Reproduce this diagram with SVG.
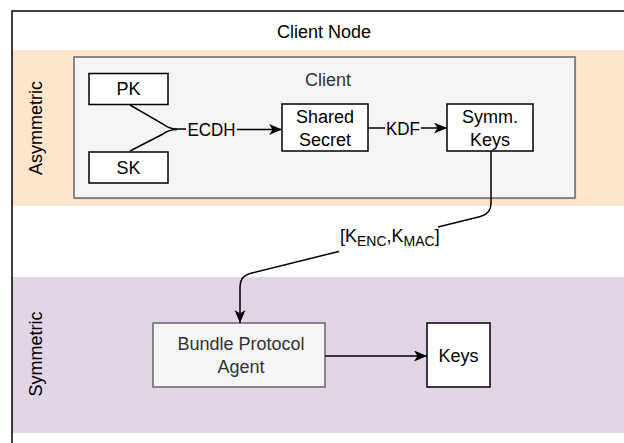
<svg xmlns="http://www.w3.org/2000/svg" width="624" height="443" viewBox="0 0 624 443">
<style>
text{font-family:"Liberation Sans",Arial,sans-serif;font-size:18px;fill:#000}
.c{text-anchor:middle}
.g{fill:#333}
.box{fill:#fff;stroke:#000;stroke-width:1.5}
.gbox{fill:#f5f5f5;stroke:#666;stroke-width:1.5}
.edge{fill:none;stroke:#000;stroke-width:1.5}
.lbg{fill:#f5f5f5}
</style>
<defs>
<marker id="arr" markerUnits="userSpaceOnUse" markerWidth="14" markerHeight="12" refX="13" refY="5.5" orient="auto" viewBox="0 0 14 12">
<path d="M0,0 L13,5.5 L0,11 L3.5,5.5 Z" fill="#000"/>
</marker>
</defs>
<g id="frame">
<rect x="0" y="0" width="624" height="443" fill="#fff"/>
<rect x="12" y="50" width="612" height="156" fill="#ffe6cc"/>
<rect x="12" y="277" width="612" height="156" fill="#e1d5e7"/>
<path d="M12,443 V11 H624" fill="none" stroke="#000" stroke-width="1.5"/>
<text class="c" x="324" y="37.5">Client Node</text>
</g>
<g id="lane-asymmetric">
<text class="c" transform="translate(41.5,128) rotate(-90)">Asymmetric</text>
</g>
<g id="lane-symmetric">
<text class="c" transform="translate(41.5,354) rotate(-90)">Symmetric</text>
</g>
<g id="client">
<rect x="75.5" y="58.5" width="501" height="141" fill="#000" opacity="0.08"/>
<rect x="74" y="57" width="501" height="141" class="gbox"/>
<text class="c g" x="328" y="86">Client</text>
</g>
<g id="pk">
<rect x="89" y="73.5" width="79" height="31" class="box"/>
<text class="c" x="128.5" y="95">PK</text>
</g>
<g id="sk">
<rect x="89" y="152" width="79" height="31" class="box"/>
<text class="c" x="128.5" y="173.5">SK</text>
</g>
<g id="shared-secret">
<rect x="282" y="104" width="86" height="47" class="box"/>
<text class="c" x="325" y="122.5">Shared</text>
<text class="c" x="325" y="145.5">Secret</text>
</g>
<g id="symm-keys">
<rect x="447" y="104" width="86" height="47" class="box"/>
<text class="c" x="490" y="122.5">Symm.</text>
<text class="c" x="490" y="145.5">Keys</text>
</g>
<g id="bpa">
<rect x="153" y="323" width="172" height="64" class="gbox"/>
<text class="c g" x="241" y="350">Bundle Protocol</text>
<text class="c g" x="241" y="373">Agent</text>
</g>
<g id="keys">
<rect x="427" y="323" width="63" height="64" class="box"/>
<text class="c" x="458.5" y="362">Keys</text>
</g>
<g id="connectors">
<path class="edge" d="M130,105 L163,124 Q169,129 177,129 H186"/>
<path class="edge" d="M130,151 L163,134 Q169,129.5 177,129.5"/>
<path class="edge" d="M237,129.5 H282" marker-end="url(#arr)"/>
<text class="c" x="211.5" y="136" textLength="48" lengthAdjust="spacingAndGlyphs">ECDH</text>
<path class="edge" d="M368,128 H385 M421,128 H447" marker-end="url(#arr)"/>
<text class="c" x="403" y="134.5" textLength="34" lengthAdjust="spacingAndGlyphs">KDF</text>
<path class="edge" d="M491,151 V203 Q491,214 480.5,216.5 L438,227 M339,251.4 L250,273.4 Q240,276 240,287 V323" marker-end="url(#arr)"/>
<text x="340" y="241.5">[K<tspan font-size="14" dy="4">ENC</tspan><tspan dy="-4">,K</tspan><tspan font-size="14" dy="4">MAC</tspan><tspan dy="-4">]</tspan></text>
<path class="edge" d="M325,356 H427" marker-end="url(#arr)"/>
</g>
</svg>
